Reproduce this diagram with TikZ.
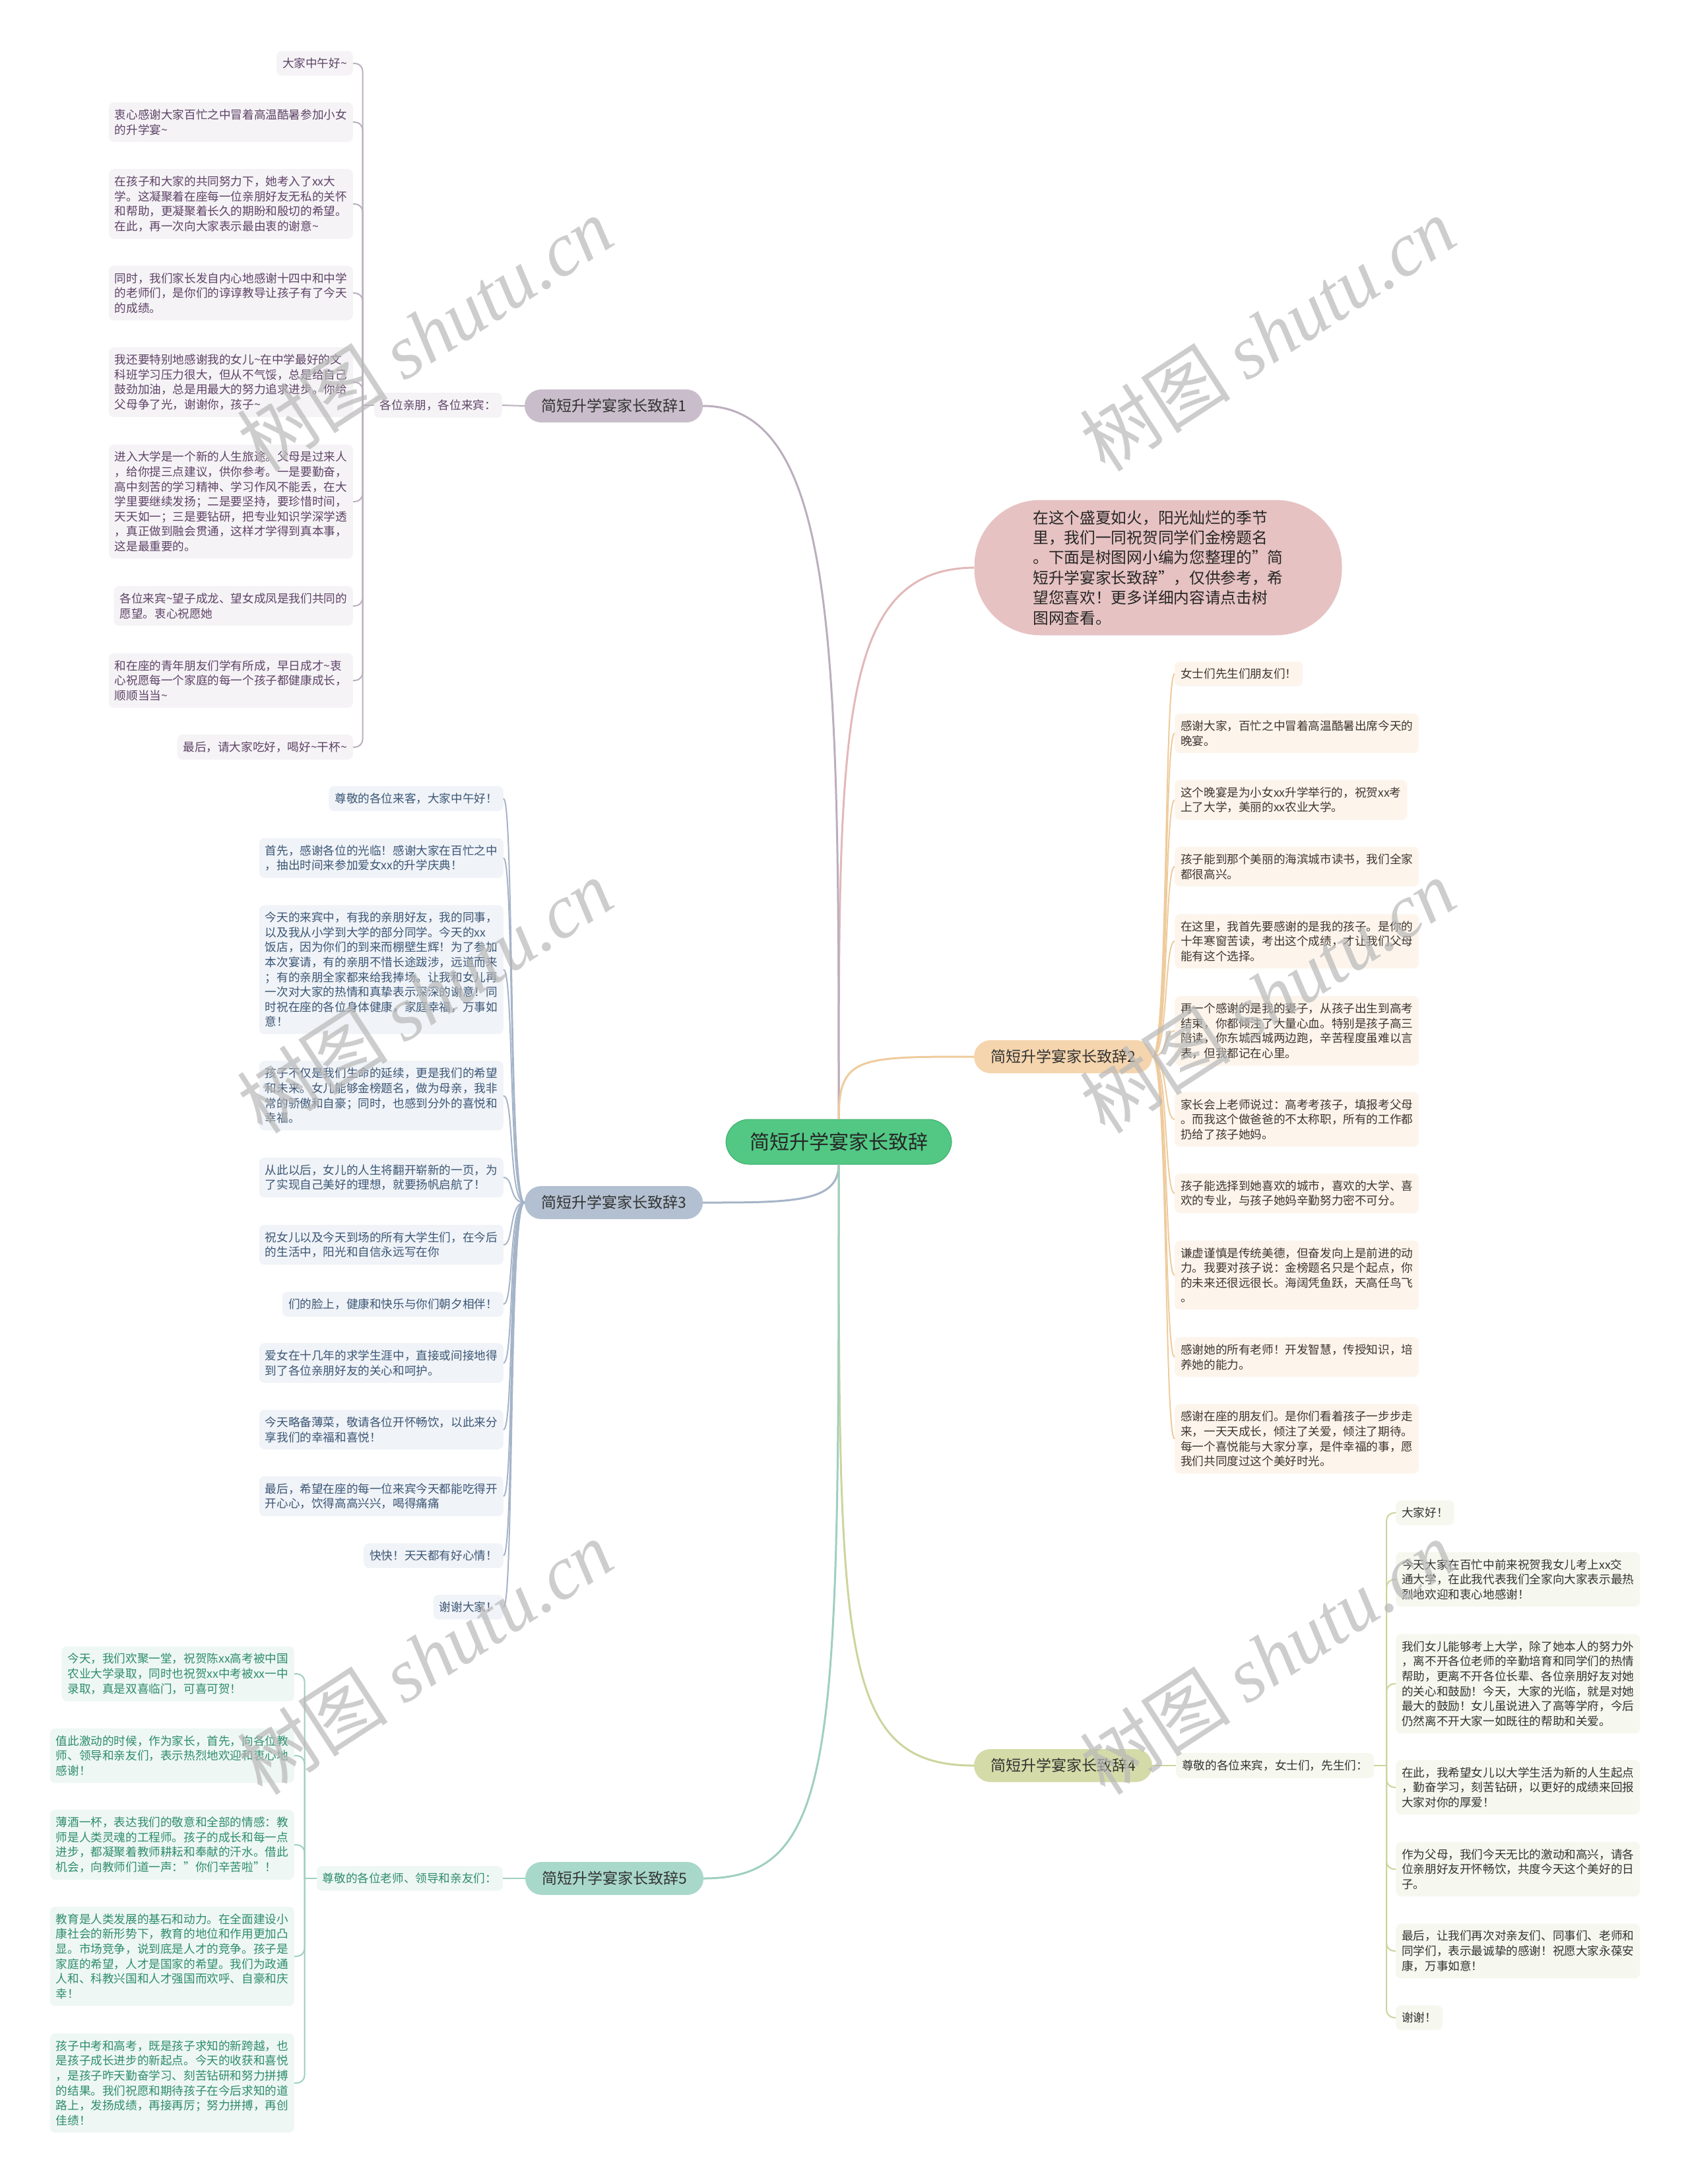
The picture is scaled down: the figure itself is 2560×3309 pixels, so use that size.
\documentclass[tikz,border=0pt]{standalone}
\usepackage{fontspec}
\setmainfont{Noto Sans CJK SC}
\newfontfamily\wmlatin{Liberation Serif}

\definecolor{rootfill}{HTML}{52C884}
\definecolor{rootline}{HTML}{3DAE6C}
\definecolor{introfill}{HTML}{E7C2C2}
\definecolor{introlink}{HTML}{E2B8B8}
\definecolor{onefill}{HTML}{C9BDCB}
\definecolor{onelink}{HTML}{BBAEBE}
\definecolor{oneleaf}{HTML}{F5F3F6}
\definecolor{onetext}{HTML}{5E4366}
\definecolor{twofill}{HTML}{F5D5AE}
\definecolor{twolink}{HTML}{EFCB9C}
\definecolor{twoleaf}{HTML}{FDF5EC}
\definecolor{twotext}{HTML}{3C3530}
\definecolor{threefill}{HTML}{B3C0D1}
\definecolor{threelink}{HTML}{A5B4C8}
\definecolor{threeleaf}{HTML}{F0F3F7}
\definecolor{threetext}{HTML}{3B5676}
\definecolor{fourfill}{HTML}{D4DBA8}
\definecolor{fourlink}{HTML}{CDD49C}
\definecolor{fourleaf}{HTML}{F6F7EE}
\definecolor{fourtext}{HTML}{333333}
\definecolor{fivefill}{HTML}{A8D8CA}
\definecolor{fivelink}{HTML}{9FCFC1}
\definecolor{fiveleaf}{HTML}{EEF7F4}
\definecolor{fivetext}{HTML}{2E8C6C}

\newcommand{\tld}{\textasciitilde}

\tikzset{
  leaf/.style={rounded corners=8,inner xsep=9,inner ysep=10.5,align=left,
    font=\fontsize{17.6}{22.6}\selectfont},
  leafone/.style={leaf,fill=oneleaf,text=onetext,anchor=east},
  leaftwo/.style={leaf,fill=twoleaf,text=twotext,anchor=west},
  leafthree/.style={leaf,fill=threeleaf,text=threetext,anchor=east},
  leaffour/.style={leaf,fill=fourleaf,text=fourtext,anchor=west},
  leaffive/.style={leaf,fill=fiveleaf,text=fivetext,anchor=east},
  branch/.style={rounded corners=25,minimum width=270,minimum height=50,
    font=\fontsize{23}{23}\selectfont,text=black!80},
  biglink/.style={line width=3},
  leaflink/.style={line width=2},
  wm/.style={rotate=33,text=black!28,text opacity=0.7,font=\fontsize{115}{115}\selectfont}
}

\begin{document}
\begin{tikzpicture}[x=1pt,y=-1pt]
  \fill[white] (0,0) rectangle (2560,3309);
  \useasboundingbox (0,0) rectangle (2560,3309);

  \node[rounded corners=35,fill=rootfill,draw=rootline,line width=1,minimum width=342,minimum height=68,
    font=\fontsize{30}{30}\selectfont,text=black!85] (c) at (1271,1730) {简短升学宴家长致辞};

  \node[rounded corners=100,fill=introfill,minimum width=557,minimum height=205,align=left,
    font=\fontsize{23.7}{30.4}\selectfont,text=black!85] (intro) at (1755,860)
    {在这个盛夏如火，阳光灿烂的季节\\里，我们一同祝贺同学们金榜题名\\。下面是树图网小编为您整理的"简\\短升学宴家长致辞"，仅供参考，希\\望您喜欢！更多详细内容请点击树\\图网查看。};

  \node[branch,fill=onefill] (b1) at (930,615) {简短升学宴家长致辞1};
  \node[branch,fill=twofill] (b2) at (1611,1601) {简短升学宴家长致辞2};
  \node[branch,fill=threefill] (b3) at (930,1822) {简短升学宴家长致辞3};
  \node[branch,fill=fourfill] (b4) at (1611,2675) {简短升学宴家长致辞4};
  \node[branch,fill=fivefill] (b5) at (931,2846) {简短升学宴家长致辞5};

  \draw[biglink,introlink] (c.north) .. controls (1271,1100) and (1271,862) .. (intro.west);
  \draw[biglink,onelink] (c.north) .. controls (1271,1000) and (1271,615) .. (b1.east);
  \draw[biglink,twolink] (c.north) .. controls (1271,1601) and (1300,1601) .. (b2.west);
  \draw[biglink,threelink] (c.south) .. controls (1271,1822) and (1200,1822) .. (b3.east);
  \draw[biglink,fourlink] (c.south) .. controls (1271,2500) and (1271,2675) .. (b4.west);
  \draw[biglink,fivelink] (c.south) .. controls (1271,2650) and (1271,2846) .. (b5.east);

  % branch 1
  \node[leafone,anchor=east] (s1) at (761,614) {各位亲朋，各位来宾：};
  \node[leafone] (l1a) at (535,96) {大家中午好\tld};
  \node[leafone] (l1b) at (535,185) {衷心感谢大家百忙之中冒着高温酷暑参加小女\\的升学宴\tld};
  \node[leafone] (l1c) at (535,309) {在孩子和大家的共同努力下，她考入了xx大\\学。这凝聚着在座每一位亲朋好友无私的关怀\\和帮助，更凝聚着长久的期盼和殷切的希望。\\在此，再一次向大家表示最由衷的谢意\tld};
  \node[leafone] (l1d) at (535,444) {同时，我们家长发自内心地感谢十四中和中学\\的老师们，是你们的谆谆教导让孩子有了今天\\的成绩。};
  \node[leafone] (l1e) at (535,579) {我还要特别地感谢我的女儿\tld{}在中学最好的文\\科班学习压力很大，但从不气馁，总是给自己\\鼓劲加油，总是用最大的努力追求进步。你给\\父母争了光，谢谢你，孩子\tld};
  \node[leafone] (l1f) at (535,760) {进入大学是一个新的人生旅途。父母是过来人\\，给你提三点建议，供你参考。一是要勤奋，\\高中刻苦的学习精神、学习作风不能丢，在大\\学里要继续发扬；二是要坚持，要珍惜时间，\\天天如一；三是要钻研，把专业知识学深学透\\，真正做到融会贯通，这样才学得到真本事，\\这是最重要的。};
  \node[leafone] (l1g) at (535,918) {各位来宾\tld{}望子成龙、望女成凤是我们共同的\\愿望。衷心祝愿她};
  \node[leafone] (l1h) at (535,1031) {和在座的青年朋友们学有所成，早日成才\tld{}衷\\心祝愿每一个家庭的每一个孩子都健康成长，\\顺顺当当\tld};
  \node[leafone] (l1i) at (535,1132) {最后，请大家吃好，喝好\tld{}干杯\tld};
  \draw[leaflink,onelink] (b1.west) -- (s1.east);
  \foreach \n in {a,...,i}
    \draw[leaflink,onelink,rounded corners=12] ([xshift=-17]s1.west) |- (l1\n.east);
  \draw[leaflink,onelink] (s1.west) -- ++(-17,0);

  % branch 2
  \node[leaftwo] (l2a) at (1780,1021) {女士们先生们朋友们！};
  \node[leaftwo] (l2b) at (1780,1111) {感谢大家，百忙之中冒着高温酷暑出席今天的\\晚宴。};
  \node[leaftwo] (l2c) at (1780,1212) {这个晚宴是为小女xx升学举行的，祝贺xx考\\上了大学，美丽的xx农业大学。};
  \node[leaftwo] (l2d) at (1780,1313) {孩子能到那个美丽的海滨城市读书，我们全家\\都很高兴。};
  \node[leaftwo] (l2e) at (1780,1426) {在这里，我首先要感谢的是我的孩子。是你的\\十年寒窗苦读，考出这个成绩，才让我们父母\\能有这个选择。};
  \node[leaftwo] (l2f) at (1780,1562) {再一个感谢的是我的妻子，从孩子出生到高考\\结束，你都倾注了大量心血。特别是孩子高三\\陪读，你东城西城两边跑，辛苦程度虽难以言\\表，但我都记在心里。};
  \node[leaftwo] (l2g) at (1780,1696) {家长会上老师说过：高考考孩子，填报考父母\\。而我这个做爸爸的不太称职，所有的工作都\\扔给了孩子她妈。};
  \node[leaftwo] (l2h) at (1780,1808) {孩子能选择到她喜欢的城市，喜欢的大学、喜\\欢的专业，与孩子她妈辛勤努力密不可分。};
  \node[leaftwo] (l2i) at (1780,1932) {谦虚谨慎是传统美德，但奋发向上是前进的动\\力。我要对孩子说：金榜题名只是个起点，你\\的未来还很远很长。海阔凭鱼跃，天高任鸟飞\\。};
  \node[leaftwo] (l2j) at (1780,2056) {感谢她的所有老师！开发智慧，传授知识，培\\养她的能力。};
  \node[leaftwo] (l2k) at (1780,2180) {感谢在座的朋友们。是你们看着孩子一步步走\\来，一天天成长，倾注了关爱，倾注了期待。\\每一个喜悦能与大家分享，是件幸福的事，愿\\我们共同度过这个美好时光。};
  \foreach \n in {a,...,k}
    \draw[leaflink,twolink] (b2.east) .. controls +(24,0) and +(-16,0) .. (l2\n.west);

  % branch 3
  \node[leafthree] (l3a) at (763,1210) {尊敬的各位来客，大家中午好！};
  \node[leafthree] (l3b) at (763,1300) {首先，感谢各位的光临！感谢大家在百忙之中\\，抽出时间来参加爱女xx的升学庆典！};
  \node[leafthree] (l3c) at (763,1469) {今天的来宾中，有我的亲朋好友，我的同事，\\以及我从小学到大学的部分同学。今天的xx\\饭店，因为你们的到来而棚壁生辉！为了参加\\本次宴请，有的亲朋不惜长途跋涉，远道而来\\；有的亲朋全家都来给我捧场。让我和女儿再\\一次对大家的热情和真挚表示深深的谢意！同\\时祝在座的各位身体健康，家庭幸福，万事如\\意！};
  \node[leafthree] (l3d) at (763,1660) {孩子不仅是我们生命的延续，更是我们的希望\\和未来。女儿能够金榜题名，做为母亲，我非\\常的骄傲和自豪；同时，也感到分外的喜悦和\\幸福。};
  \node[leafthree] (l3e) at (763,1784) {从此以后，女儿的人生将翻开崭新的一页，为\\了实现自己美好的理想，就要扬帆启航了！};
  \node[leafthree] (l3f) at (763,1886) {祝女儿以及今天到场的所有大学生们，在今后\\的生活中，阳光和自信永远写在你};
  \node[leafthree] (l3g) at (763,1976) {们的脸上，健康和快乐与你们朝夕相伴！};
  \node[leafthree] (l3h) at (763,2065) {爱女在十几年的求学生涯中，直接或间接地得\\到了各位亲朋好友的关心和呵护。};
  \node[leafthree] (l3i) at (763,2166) {今天略备薄菜，敬请各位开怀畅饮，以此来分\\享我们的幸福和喜悦！};
  \node[leafthree] (l3j) at (763,2267) {最后，希望在座的每一位来宾今天都能吃得开\\开心心，饮得高高兴兴，喝得痛痛};
  \node[leafthree] (l3k) at (763,2357) {快快！天天都有好心情！};
  \node[leafthree] (l3l) at (763,2435) {谢谢大家！};
  \foreach \n in {a,...,l}
    \draw[leaflink,threelink] (b3.west) .. controls +(-24,0) and +(16,0) .. (l3\n.east);

  % branch 4
  \node[leaffour,anchor=west] (s4) at (1782,2675) {尊敬的各位来宾，女士们，先生们：};
  \node[leaffour] (l4a) at (2115,2292) {大家好！};
  \node[leaffour] (l4b) at (2115,2393) {今天大家在百忙中前来祝贺我女儿考上xx交\\通大学，在此我代表我们全家向大家表示最热\\烈地欢迎和衷心地感谢！};
  \node[leaffour] (l4c) at (2115,2551) {我们女儿能够考上大学，除了她本人的努力外\\，离不开各位老师的辛勤培育和同学们的热情\\帮助，更离不开各位长辈、各位亲朋好友对她\\的关心和鼓励！今天，大家的光临，就是对她\\最大的鼓励！女儿虽说进入了高等学府，今后\\仍然离不开大家一如既往的帮助和关爱。};
  \node[leaffour] (l4d) at (2115,2708) {在此，我希望女儿以大学生活为新的人生起点\\，勤奋学习，刻苦钻研，以更好的成绩来回报\\大家对你的厚爱！};
  \node[leaffour] (l4e) at (2115,2832) {作为父母，我们今天无比的激动和高兴，请各\\位亲朋好友开怀畅饮，共度今天这个美好的日\\子。};
  \node[leaffour] (l4f) at (2115,2956) {最后，让我们再次对亲友们、同事们、老师和\\同学们，表示最诚挚的感谢！祝愿大家永葆安\\康，万事如意！};
  \node[leaffour] (l4g) at (2115,3057) {谢谢！};
  \draw[leaflink,fourlink] (b4.east) -- (s4.west);
  \foreach \n in {a,...,g}
    \draw[leaflink,fourlink,rounded corners=12] ([xshift=19]s4.east) |- (l4\n.west);
  \draw[leaflink,fourlink] (s4.east) -- ++(19,0);

  % branch 5
  \node[leaffive,anchor=east] (s5) at (762,2846) {尊敬的各位老师、领导和亲友们：};
  \node[leaffive] (l5a) at (446,2536) {今天，我们欢聚一堂，祝贺陈xx高考被中国\\农业大学录取，同时也祝贺xx中考被xx一中\\录取，真是双喜临门，可喜可贺！};
  \node[leaffive] (l5b) at (446,2660) {值此激动的时候，作为家长，首先，向各位教\\师、领导和亲友们，表示热烈地欢迎和衷心地\\感谢！};
  \node[leaffive] (l5c) at (446,2795) {薄酒一杯，表达我们的敬意和全部的情感：教\\师是人类灵魂的工程师。孩子的成长和每一点\\进步，都凝聚着教师耕耘和奉献的汗水。借此\\机会，向教师们道一声："你们辛苦啦"！};
  \node[leaffive] (l5d) at (446,2964) {教育是人类发展的基石和动力。在全面建设小\\康社会的新形势下，教育的地位和作用更加凸\\显。市场竞争，说到底是人才的竞争。孩子是\\家庭的希望，人才是国家的希望。我们为政通\\人和、科教兴国和人才强国而欢呼、自豪和庆\\幸！};
  \node[leaffive] (l5e) at (446,3156) {孩子中考和高考，既是孩子求知的新跨越，也\\是孩子成长进步的新起点。今天的收获和喜悦\\，是孩子昨天勤奋学习、刻苦钻研和努力拼搏\\的结果。我们祝愿和期待孩子在今后求知的道\\路上，发扬成绩，再接再厉；努力拼搏，再创\\佳绩！};
  \draw[leaflink,fivelink] (b5.west) -- (s5.east);
  \foreach \n in {a,...,e}
    \draw[leaflink,fivelink,rounded corners=12] ([xshift=-18]s5.west) |- (l5\n.east);
  \draw[leaflink,fivelink] (s5.west) -- ++(-18,0);

  \foreach \p in {(644,506),(1921,506),(644,1509),(1921,1509),(644,2511),(1921,2511)}
    \node[wm] at \p {树图 {\wmlatin\itshape shutu.cn}};
\end{tikzpicture}
\end{document}
